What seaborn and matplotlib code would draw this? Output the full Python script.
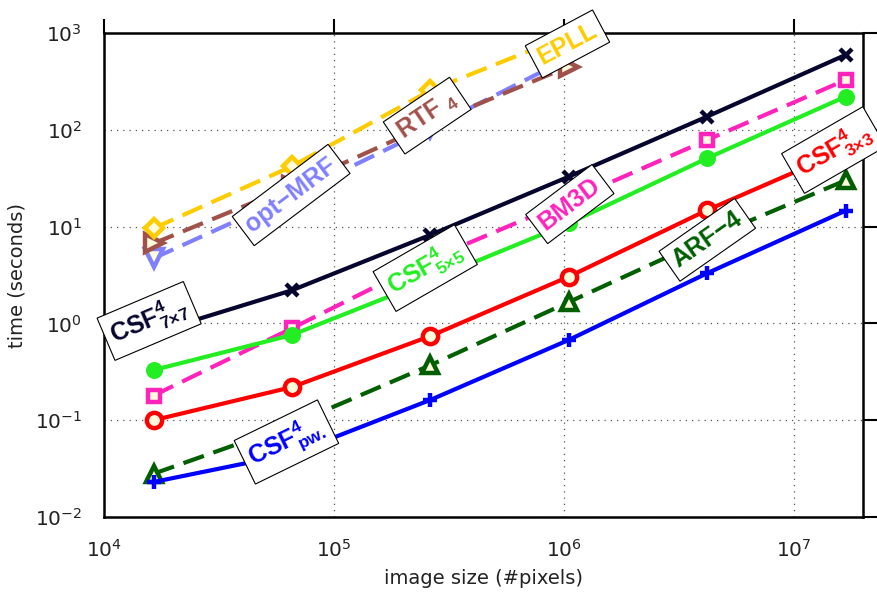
import numpy as np
import pandas as pd
import matplotlib
matplotlib.use("Agg")
import matplotlib.pyplot as plt
import seaborn as sns

# image sizes: 128^2 ... 4096^2 pixels
sizes = [16384, 65536, 262144, 1048576, 4194304, 16777216]

# run times in seconds
csf_pw = [0.023, 0.045, 0.162, 0.675, 3.3, 14.6]
arf_4 = [0.028, 0.09, 0.37, 1.66, 7.5, 30.0]
csf_3x3 = [0.10, 0.22, 0.74, 3.04, 14.8, 62.0]
csf_5x5 = [0.33, 0.76, 2.8, 10.8, 50.8, 220.0]
bm3d = [0.18, 0.89, 4.6, 18.5, 78.5, 327.0]
csf_7x7 = [0.80, 2.2, 8.2, 32.8, 137.0, 593.0]
opt_mrf = [4.7, 21.0, 104.0, 550.0]
rtf_4 = [6.7, 26.0, 115.0, 450.0]
epll = [9.6, 42.0, 255.0, 950.0]

sns.set_style("white")
plt.rcParams["font.family"] = ["DejaVu Sans"]
plt.rcParams["mathtext.fontset"] = "custom"
plt.rcParams["mathtext.rm"] = "Liberation Sans"
plt.rcParams["mathtext.bf"] = "Liberation Sans:bold"
plt.rcParams["mathtext.it"] = "Liberation Sans:italic"

fig = plt.figure(figsize=(8.78, 6.04), dpi=100)
ax = fig.add_axes([0.1188, 0.144, 0.8642, 0.8014])

cream = "#fffbdc"
LW = 3.0
dash = (0, (5.2, 2.4))

series = [
    # values, color, marker, size, linestyle, filled marker
    (opt_mrf, "#8080ff", "v", 13, dash, False),
    (rtf_4, "#a0524a", ">", 13, dash, False),
    (epll, "#ffcc00", "D", 9, dash, False),
    (csf_7x7, "#05052e", "x", 8, "-", False),
    (bm3d, "#ff22bb", "s", 9, dash, False),
    (csf_5x5, "#22ee22", "o", 9, "-", True),
    (csf_3x3, "#ff0000", "o", 11, "-", False),
    (arf_4, "#005f00", "^", 12, dash, False),
    (csf_pw, "#0000ff", "+", 10, "-", False),
]

for vals, col, mk, ms, ls, filled in series:
    x = sizes[: len(vals)]
    sns.lineplot(
        x=x, y=vals, ax=ax, color=col, linewidth=LW, linestyle=ls,
        marker=mk, markersize=ms, markeredgewidth=3.2,
        markeredgecolor=col,
        markerfacecolor=col if filled else cream,
        sort=False, dash_capstyle="butt",
    )

ax.set_xscale("log")
ax.set_yscale("log")
ax.set_xlim(1e4, 2e7)
ax.set_ylim(1e-2, 1e3)
ax.set_xticks([1e4, 1e5, 1e6, 1e7])
ax.set_yticks([1e-2, 1e-1, 1e0, 1e1, 1e2, 1e3])
ax.minorticks_off()

ax.grid(True, which="major", linestyle=(0, (1, 4)), color="#555555", linewidth=0.9)
for sp in ax.spines.values():
    sp.set_linewidth(1.8)
    sp.set_color("black")
ax.tick_params(which="major", direction="out", length=10, width=1.5,
               top=True, right=True, labelsize=14.5, colors="black", pad=6)
ax.tick_params(labelcolor="#222222")

ax.set_xlabel("image size (#pixels)", fontsize=14, color="#222222", labelpad=6)
ax.set_ylabel("time (seconds)", fontsize=14, color="#222222", labelpad=6)

labels = [
    ("EPLL", 1.035e6, 770, 28, "#ffcc00"),
    (r"RTF $_\mathbf{4}$", 2.54e5, 140, 34, "#a0524a"),
    ("opt\u2212MRF", 6.5e4, 21.2, 37, "#8080ff"),
    (r"CSF$^\mathbf{4}_\mathbf{7{\times}7}$", 1.567e4, 1.06, 23, "#05052e"),
    (r"CSF$^\mathbf{4}_\mathbf{5{\times}5}$", 2.49e5, 3.73, 30, "#22ee22"),
    ("BM3D", 1.06e6, 17.1, 37, "#ff22bb"),
    (r"CSF$^\mathbf{4}_\mathbf{3{\times}3}$", 1.49e7, 61.8, 30, "#ff0000"),
    ("ARF\u22124", 4.2e6, 7.3, 35, "#005f00"),
    (r"CSF$^\mathbf{4}_\mathbf{pw.}$", 6.2e4, 0.0596, 26, "#0000ff"),
]
for txt, lx, ly, rot, col in labels:
    ax.text(lx, ly, txt, color=col, fontsize=18, fontweight="bold",
            family="Liberation Sans", rotation=rot, rotation_mode="anchor",
            ha="center", va="center", zorder=10, clip_on=False,
            bbox=dict(boxstyle="square,pad=0.25", fc="white", ec="black", lw=0.8))

fig.savefig("out.png", dpi=100)
